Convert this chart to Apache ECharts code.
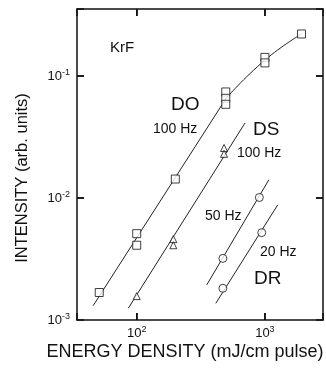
<!DOCTYPE html>
<html>
<head>
<meta charset="utf-8">
<script src="https://cdn.jsdelivr.net/npm/echarts@6/dist/echarts.min.js"></script>
<style>
  html, body { margin: 0; padding: 0; background: #fff; }
  #chart { width: 326px; height: 369px; }
</style>
</head>
<body>
<div id="chart"></div>
<script>
// DO, 100 Hz (squares)
const doEnergy = [51, 100, 100, 200, 495, 495, 495, 1000, 1000, 1930]
const doIntensity = [0.00168, 0.0051, 0.0041, 0.0143, 0.074, 0.0656, 0.0586, 0.142, 0.128, 0.221]
// DS, 100 Hz (triangles)
const dsEnergy = [100, 193, 193, 480, 480]
const dsIntensity = [0.00157, 0.0046, 0.0041, 0.0257, 0.023]
// DR, 50 Hz and 20 Hz (circles)
const dr50Energy = [470, 905]
const dr50Intensity = [0.0032, 0.0101]
const dr20Energy = [470, 945]
const dr20Intensity = [0.00182, 0.0052]

// fitted lines drawn through the points
const doFitEnergy = [45.7, 500]
const doFitIntensity = [0.00131, 0.066]
const doCurveEnergy = [500, 1000, 1930]
const doCurveIntensity = [0.066, 0.135, 0.221]
const dsFitEnergy = [86, 700]
const dsFitIntensity = [0.00125, 0.0412]
const dr50FitEnergy = [352, 1074]
const dr50FitIntensity = [0.00194, 0.0141]
const dr20FitEnergy = [414, 1259]
const dr20FitIntensity = [0.00137, 0.00878]

// decade ticks on the frame
const xTicks = [100, 1000]
const yTicks = [0.01, 0.1]

const xMin = 34.2
const xMax = 2840
const yMin = 0.001
const yMax = 0.354

const ink = '#111'
const font = 'Liberation Sans'
const tickLen = 7

function pairs (xs, ys) {
  return xs.map((x, i) => [x, ys[i]])
}

// only label the decades, as 10 with a superscript power
function powerLabel (value) {
  const e = Math.log10(value)
  const r = Math.round(e)
  if (Math.abs(e - r) > 1e-6) return ''
  return '{b|10}{s|' + r + '}'
}

const richPow = {
  b: { fontSize: 13, fontFamily: font, color: ink, lineHeight: 16 },
  s: { fontSize: 9, fontFamily: font, color: ink, verticalAlign: 'top', lineHeight: 9 }
}

function logAxis (min, max, position, showLabels, margin) {
  return {
    type: 'log',
    min: min,
    max: max,
    position: position,
    axisLine: { show: true, lineStyle: { color: ink, width: 1.5 } },
    axisTick: { show: true, inside: true, length: tickLen, lineStyle: { color: ink, width: 1.5 } },
    splitLine: { show: false },
    axisLabel: showLabels
      ? { margin: margin, formatter: powerLabel, rich: richPow }
      : { show: false }
  }
}

function fitLine (xs, ys, smooth) {
  return {
    type: 'line',
    data: pairs(xs, ys),
    symbol: 'none',
    smooth: !!smooth,
    silent: true,
    lineStyle: { color: '#222', width: 1 }
  }
}

function points (xs, ys, symbol, size) {
  return {
    type: 'scatter',
    data: pairs(xs, ys),
    symbol: symbol,
    symbolSize: size,
    itemStyle: { color: '#fff', borderColor: ink, borderWidth: 1 },
    z: 3
  }
}

function label (text, x, y, size) {
  return {
    type: 'text',
    x: x,
    y: y,
    style: { text: text, fill: ink, font: size + 'px "' + font + '"', textVerticalAlign: 'middle' }
  }
}

const labels = [
  label('KrF', 110, 48, 15),
  label('DO', 171, 105, 19),
  label('100 Hz', 153, 129, 14),
  label('DS', 253, 130, 19),
  label('100 Hz', 237, 153, 14),
  label('50 Hz', 205, 216, 14),
  label('20 Hz', 260, 252, 14),
  label('DR', 254, 279, 19),
  {
    type: 'text',
    x: 185,
    y: 352,
    style: { text: 'ENERGY DENSITY (mJ/cm pulse)', fill: ink, font: '18px "' + font + '"', textAlign: 'center', textVerticalAlign: 'middle' }
  },
  {
    type: 'text',
    x: 22,
    y: 178,
    rotation: Math.PI / 2,
    style: { text: 'INTENSITY (arb. units)', fill: ink, font: '16.5px "' + font + '"', textAlign: 'center', textVerticalAlign: 'middle' }
  }
]

const chart = echarts.init(document.getElementById('chart'))
chart.setOption({
  animation: false,
  backgroundColor: '#fff',
  grid: { left: 77, top: 9, width: 249, height: 311 },
  xAxis: [
    logAxis(xMin, xMax, 'bottom', true, 5),
    logAxis(xMin, xMax, 'top', false)
  ],
  yAxis: [
    logAxis(yMin, yMax, 'left', true, 7),
    logAxis(yMin, yMax, 'right', false)
  ],
  series: [
    fitLine(doFitEnergy, doFitIntensity),
    fitLine(doCurveEnergy, doCurveIntensity, true),
    fitLine(dsFitEnergy, dsFitIntensity),
    fitLine(dr50FitEnergy, dr50FitIntensity),
    fitLine(dr20FitEnergy, dr20FitIntensity),
    points(doEnergy, doIntensity, 'rect', 8),
    points(dsEnergy, dsIntensity, 'triangle', 7),
    points(dr50Energy, dr50Intensity, 'circle', 8),
    points(dr20Energy, dr20Intensity, 'circle', 8)
  ],
  graphic: labels
})

// inward frame ticks placed through the chart's own scales
const lo = chart.convertToPixel({ gridIndex: 0 }, [xMin, yMin])
const hi = chart.convertToPixel({ gridIndex: 0 }, [xMax, yMax])
const tickStyle = { stroke: ink, lineWidth: 1.5 }
const ticks = []
xTicks.forEach(v => {
  const x = chart.convertToPixel({ gridIndex: 0 }, [v, yMin])[0]
  ticks.push({ type: 'line', shape: { x1: x, y1: lo[1], x2: x, y2: lo[1] - tickLen }, style: tickStyle, silent: true })
  ticks.push({ type: 'line', shape: { x1: x, y1: hi[1], x2: x, y2: hi[1] + tickLen }, style: tickStyle, silent: true })
})
yTicks.forEach(v => {
  const y = chart.convertToPixel({ gridIndex: 0 }, [xMin, v])[1]
  ticks.push({ type: 'line', shape: { x1: lo[0], y1: y, x2: lo[0] + tickLen, y2: y }, style: tickStyle, silent: true })
  ticks.push({ type: 'line', shape: { x1: hi[0], y1: y, x2: hi[0] - tickLen, y2: y }, style: tickStyle, silent: true })
})
chart.setOption({ graphic: labels.concat(ticks) })
</script>
</body>
</html>
